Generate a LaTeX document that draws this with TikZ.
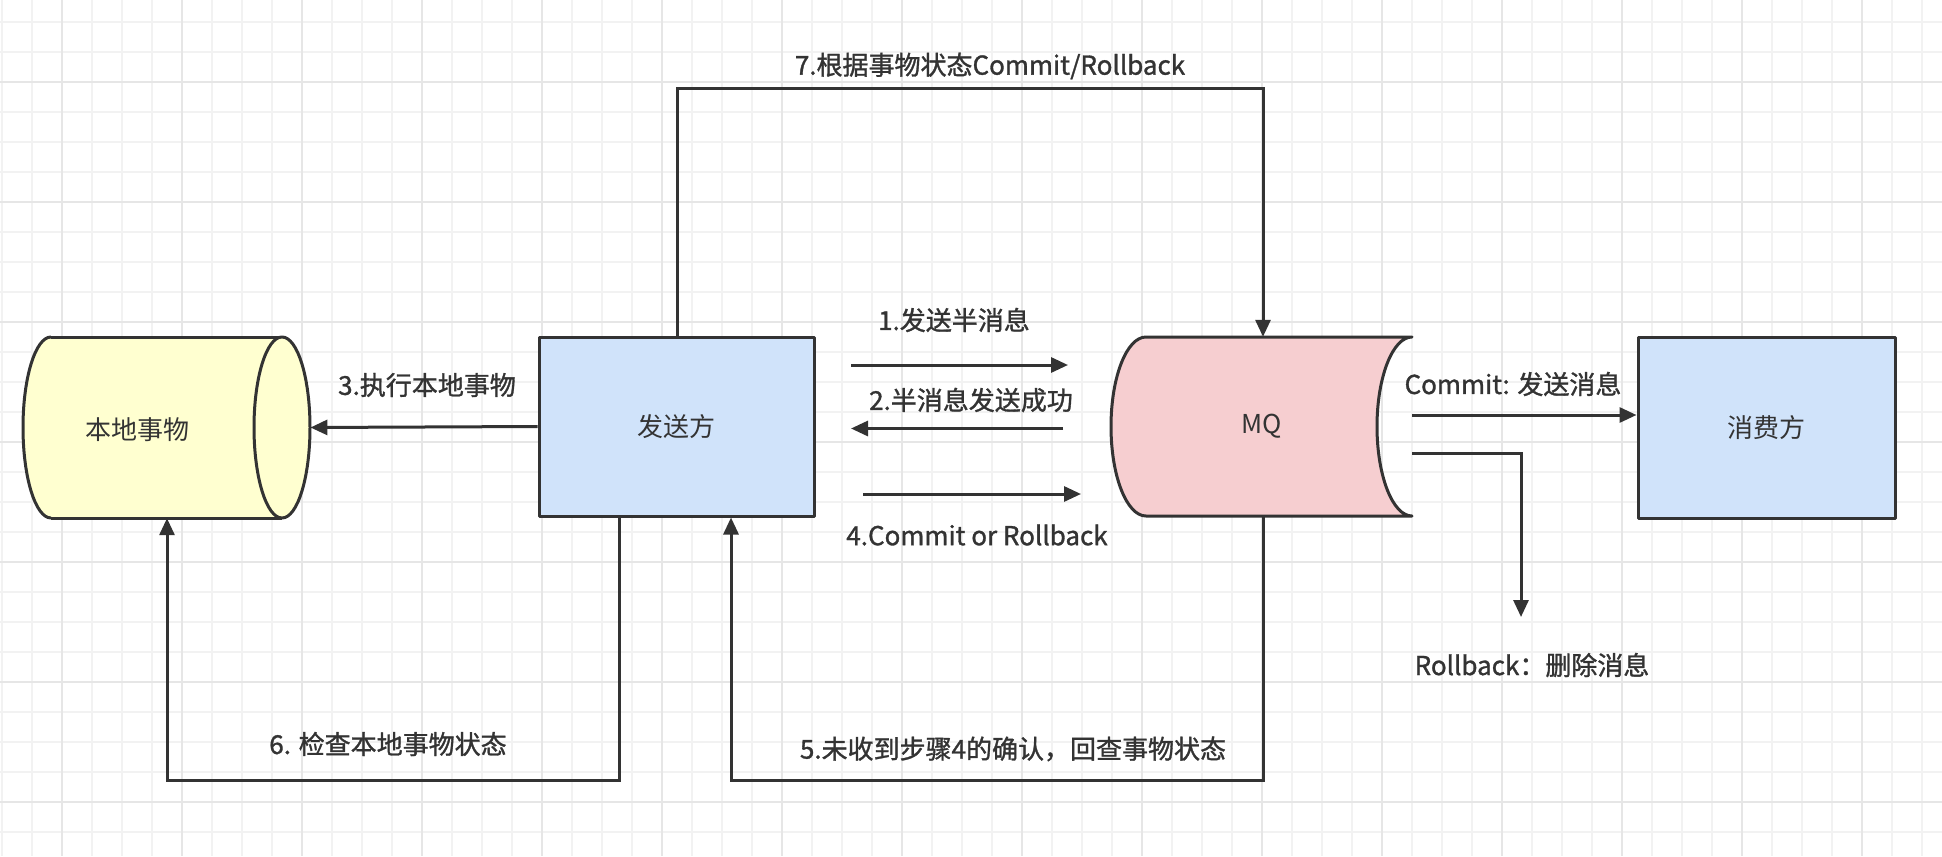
\documentclass[tikz,border=0pt]{standalone}
\usepackage{fontspec}
\setmainfont{Noto Sans CJK SC}
\newfontfamily\lbf[FakeBold=1.2]{Noto Sans CJK SC}
\usetikzlibrary{arrows.meta}
\definecolor{ln}{HTML}{333333}
\definecolor{gmin}{HTML}{F2F2F2}
\definecolor{gmaj}{HTML}{E6E6E6}
\definecolor{yel}{HTML}{FFFFD0}
\definecolor{blu}{HTML}{D0E3FA}
\definecolor{pnk}{HTML}{F6CED0}
\begin{document}
\begin{tikzpicture}[x=1pt,y=-1pt,
  shp/.style={draw=ln,line width=3pt,line join=round},
  box/.style={shp,fill=blu,minimum width=275pt,minimum height=179pt,inner sep=0pt},
  ghost/.style={draw=none,inner sep=0pt},
  arr/.style={draw=ln,line width=3pt,-{Triangle[width=15pt,length=17pt]}},
  lab/.style={text=ln,font=\lbf\fontsize{26}{30}\selectfont,inner sep=0pt},
  txt/.style={text=ln,font=\fontsize{26}{30}\selectfont}]
\useasboundingbox (0,0) rectangle (1942,856);
\fill[white] (0,0) rectangle (1942,856);
\foreach \x in {2,32,...,1942} \draw[gmin,line width=1.2pt] (\x,0) -- (\x,856);
\foreach \y in {22,52,...,856} \draw[gmin,line width=1.2pt] (0,\y) -- (1942,\y);
\foreach \x in {62,182,...,1942} \draw[gmaj,line width=1.6pt] (\x,0) -- (\x,856);
\foreach \y in {82,202,...,856} \draw[gmaj,line width=1.6pt] (0,\y) -- (1942,\y);

% local transaction cylinder
\fill[yel] (51,337) rectangle (282,518);
\fill[yel] (51,427.5) ellipse[x radius=28,y radius=90.5];
\draw[shp,fill=yel] (51,337) arc[start angle=270,end angle=90,x radius=28,y radius=90.5];
\draw[shp] (51,337) -- (282,337) (51,518) -- (282,518);
\draw[shp,fill=yel] (282,427.5) ellipse[x radius=28,y radius=90.5];
\node[ghost,minimum width=287pt,minimum height=181pt,txt] (local) at (166.75,427.5) {};
\node[txt] at (137,430) {本地事物};

% MQ
\draw[shp,fill=pnk] (1146,337) -- (1412,337) arc[start angle=270,end angle=90,x radius=35,y radius=89.5]
  -- (1146,516) arc[start angle=90,end angle=270,x radius=35,y radius=89.5] -- cycle;
\node[ghost,minimum width=301pt,minimum height=179pt,txt] (mq) at (1261.5,426.5) {MQ};

\node[box] (send) at (676.5,426.5) {\fontsize{26}{30}\selectfont\color{ln}发送方};
\node[box,minimum width=257pt,minimum height=181pt] (cons) at (1766.5,427.5) {\fontsize{26}{30}\selectfont\color{ln}消费方};

% arrows 1,2,4
\coordinate (a1s) at (851,365); \coordinate (a1e) at (1068,365);
\coordinate (a2s) at (1063,428.5); \coordinate (a2e) at (851,428.5);
\coordinate (a4s) at (863,494); \coordinate (a4e) at (1081,494);
\draw[arr] (a1s) -- (a1e);
\draw[arr] (a2s) -- (a2e);
\draw[arr] (a4s) -- (a4e);
\node[lab] at (954,320) {1.发送半消息};
\node[lab] at (971,400) {2.半消息发送成功};
\node[lab] at (977,535) {4.Commit or Rollback};

% arrow 3
\draw[arr] (send.west) -- (local.east);
\node[lab] at (427,385) {3.执行本地事物};

% arrow 7
\coordinate (c7a) at (677,89); \coordinate (c7b) at (1263,89);
\draw[arr] (send.north -| c7a) -- (c7a) -- (c7b) -- (mq.north -| c7b);
\node[lab] at (990,66) {7.根据事物状态Commit/Rollback};

% arrow 6
\coordinate (c6a) at (619,780); \coordinate (c6b) at (167,780);
\draw[arr] (send.south -| c6a) -- (c6a) -- (c6b) -- (local.south -| c6b);
\node[lab] at (388,744) {6. 检查本地事物状态};

% arrow 5
\coordinate (c5a) at (1263,780); \coordinate (c5b) at (731,780);
\draw[arr] (mq.south -| c5a) -- (c5a) -- (c5b) -- (send.south -| c5b);
\node[lab] at (1013,749) {5.未收到步骤4的确认，回查事物状态};

% commit / rollback
\coordinate (cms) at (1412,415);
\draw[arr] (cms) -- (cons.west |- cms);
\node[lab] at (1513,384) {Commit: 发送消息};
\coordinate (rbs) at (1412,453); \coordinate (rbc) at (1521,453); \coordinate (rbe) at (1521,617);
\draw[arr] (rbs) -- (rbc) -- (rbe);
\node[lab] at (1532,665) {Rollback：删除消息};
\end{tikzpicture}
\end{document}
